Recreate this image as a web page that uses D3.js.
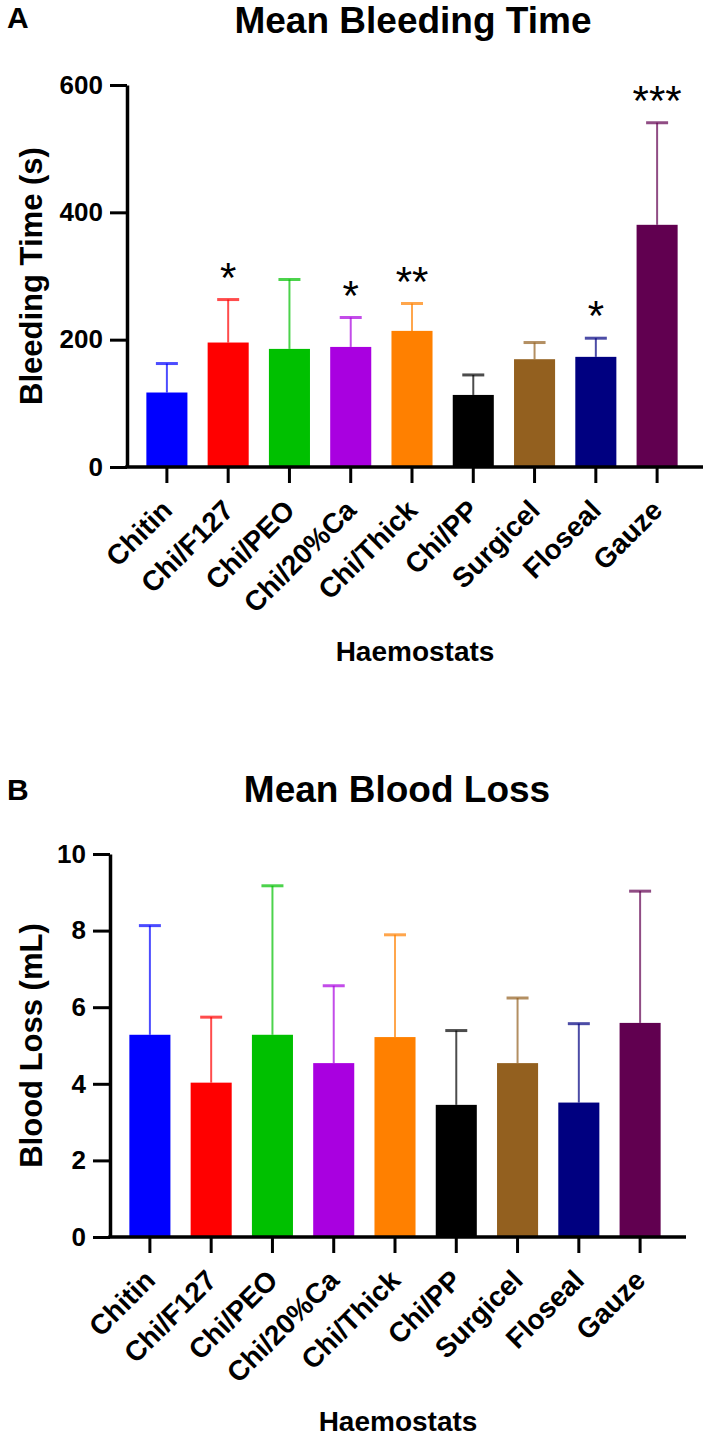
<!DOCTYPE html>
<html>
<head>
<meta charset="utf-8">
<script src="https://cdn.jsdelivr.net/npm/d3@7"></script>
<style>
  body { margin: 0; background: #fff; }
  svg { display: block; }
  text { font-family: "Liberation Sans", Arial, sans-serif; fill: #000; }
</style>
</head>
<body>
<script>
// ---- data ----
const categories = ["Chitin", "Chi/F127", "Chi/PEO", "Chi/20%Ca", "Chi/Thick", "Chi/PP", "Surgicel", "Floseal", "Gauze"];
const barColors = ["#0000FF", "#FF0000", "#00C000", "#A900E0", "#FF8000", "#000000", "#93601F", "#000080", "#610050"];

const bleedMean = [117, 195.5, 185.5, 188.6, 213.8, 113.2, 169.3, 173, 380.4];
const bleedSD   = [45.5, 67.5, 109, 46.2, 43, 31.4, 26.2, 29.3, 160.3];
const bleedSig  = ["", "*", "", "*", "**", "", "", "*", "***"];
const bleedTicks = [0, 200, 400, 600];

const lossMean = [5.28, 4.03, 5.28, 4.54, 5.22, 3.45, 4.54, 3.51, 5.59];
const lossSD   = [2.85, 1.71, 3.89, 2.02, 2.67, 1.94, 1.70, 2.06, 3.44];
const lossSig  = ["", "", "", "", "", "", "", "", ""];
const lossTicks = [0, 2, 4, 6, 8, 10];

const W = 709, H = 1439;
const svg = d3.select("body").append("svg").attr("width", W).attr("height", H);

function drawChart(o) {
  const g = svg.append("g");
  const x = d3.scaleBand().domain(categories)
    .range([o.axisX - 3, o.axisX + 573]).paddingInner(0.33).paddingOuter(0.365);
  const y = d3.scaleLinear().domain([0, o.ticks[o.ticks.length - 1]]).range([o.y0, o.yTop]);

  // panel letter and title
  g.append("text").attr("x", 7).attr("y", o.letterY).attr("font-size", 30).attr("font-weight", "bold").text(o.letter);
  g.append("text").attr("x", o.titleX).attr("y", o.titleY).attr("text-anchor", "middle")
    .attr("font-size", 37).attr("font-weight", "bold").text(o.title);

  // error bars
  const data = categories.map((c, i) => ({ c, m: o.mean[i], sd: o.sd[i], col: barColors[i], sig: o.sig[i] }));
  const eb = g.append("g");
  data.forEach(d => {
    const cx = x(d.c) + x.bandwidth() / 2;
    eb.append("line").attr("x1", cx).attr("x2", cx).attr("y1", y(d.m)).attr("y2", y(d.m + d.sd))
      .attr("stroke", d.col).attr("stroke-width", 2).attr("stroke-opacity", 0.7);
    eb.append("line").attr("x1", cx - 11).attr("x2", cx + 11).attr("y1", y(d.m + d.sd)).attr("y2", y(d.m + d.sd))
      .attr("stroke", d.col).attr("stroke-width", 3).attr("stroke-opacity", 0.7);
  });

  // bars
  g.append("g").selectAll("rect").data(data).join("rect")
    .attr("x", d => x(d.c)).attr("width", x.bandwidth())
    .attr("y", d => y(d.m)).attr("height", d => o.y0 - y(d.m))
    .attr("fill", d => d.col);

  // significance stars
  g.append("g").selectAll("text").data(data.filter(d => d.sig)).join("text")
    .attr("x", d => x(d.c) + x.bandwidth() / 2)
    .attr("y", d => y(d.m + d.sd) - 8)
    .attr("text-anchor", "middle").attr("font-size", 42).text(d => d.sig);

  // y axis
  const ya = g.append("g").attr("transform", `translate(${o.axisX},0)`)
    .call(d3.axisLeft(y).tickValues(o.ticks).tickSize(17).tickPadding(7).tickSizeOuter(0));
  ya.select(".domain").attr("stroke-width", 3.5);
  ya.selectAll(".tick line").attr("stroke-width", 3);
  ya.selectAll(".tick text").attr("font-size", 26).attr("font-weight", "bold")
    .attr("font-family", "Liberation Sans, Arial, sans-serif").attr("fill", "#000");

  // x axis
  const xa = g.append("g").attr("transform", `translate(0,${o.y0})`)
    .call(d3.axisBottom(x).tickSize(16).tickSizeOuter(0));
  xa.select(".domain").remove();
  xa.selectAll(".tick line").attr("stroke-width", 3);
  xa.selectAll(".tick text")
    .attr("font-size", 28).attr("font-weight", "bold")
    .attr("font-family", "Liberation Sans, Arial, sans-serif").attr("fill", "#000")
    .attr("text-anchor", "end").attr("dy", 0).attr("y", 0)
    .attr("transform", "translate(7,45) rotate(-45)");
  g.append("line").attr("x1", o.axisX - 1.75).attr("x2", o.axisX + 576)
    .attr("y1", o.y0).attr("y2", o.y0).attr("stroke", "#000").attr("stroke-width", 3.5);

  // axis titles
  g.append("text").attr("transform", `translate(42,${(o.y0 + o.yTop) / 2}) rotate(-90)`)
    .attr("text-anchor", "middle").attr("font-size", 31).attr("font-weight", "bold").text(o.yLabel);
  g.append("text").attr("x", o.axisX + 288).attr("y", o.y0 + 194).attr("text-anchor", "middle")
    .attr("font-size", 28).attr("font-weight", "bold").text("Haemostats");
}

drawChart({
  letter: "A", letterY: 28, title: "Mean Bleeding Time", titleX: 413, titleY: 33,
  axisX: 127, y0: 467, yTop: 85, ticks: bleedTicks,
  mean: bleedMean, sd: bleedSD, sig: bleedSig, yLabel: "Bleeding Time (s)"
});
drawChart({
  letter: "B", letterY: 800, title: "Mean Blood Loss", titleX: 397, titleY: 802,
  axisX: 110, y0: 1237, yTop: 854, ticks: lossTicks,
  mean: lossMean, sd: lossSD, sig: lossSig, yLabel: "Blood Loss (mL)"
});
</script>
</body>
</html>
